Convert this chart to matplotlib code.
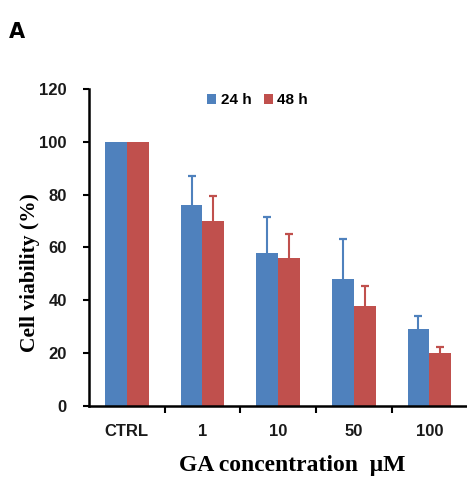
import matplotlib
matplotlib.use('Agg')
import matplotlib.pyplot as plt
import numpy as np

# 数据
categories = ['CTRL', '1', '10', '50', '100']
viability_24h = [100, 76, 58, 48, 29]
viability_48h = [100, 70, 56, 38, 20]
err_24h = [0, 11, 13.6, 15.3, 5]
err_48h = [0, 9.5, 9, 7.5, 2.3]

blue = '#4F81BD'
red = '#C0504D'

fig = plt.figure(figsize=(4.67, 4.79), dpi=100)
ax = fig.add_axes([0.1906, 0.1524, 0.81, 0.6618])

x = np.arange(len(categories))
w = 0.29
for off, vals, errs, col, lab in [(-w / 2, viability_24h, err_24h, blue, '24 h'),
                                  (w / 2, viability_48h, err_48h, red, '48 h')]:
    vals = np.array(vals)
    errs = np.array(errs)
    ax.bar(x + off, vals, w, color=col, label=lab, zorder=2)
    m = errs > 0
    # 只画上误差线
    ax.vlines(x[m] + off, vals[m], vals[m] + errs[m], color=col, lw=1.5, zorder=1)
    ax.plot(x[m] + off, vals[m] + errs[m], ls='none', marker='_', ms=6, mew=1.6,
            color=col, zorder=1)

ax.set_xlim(-0.5, 4.5)
ax.set_ylim(0, 120)
ax.set_yticks(range(0, 121, 20))
ax.set_xticks(x)
ax.set_xticklabels(categories)
ax.set_xticks(np.arange(0.5, 4.5, 1), minor=True)
ax.tick_params(axis='x', which='major', length=0, pad=13)
ax.tick_params(axis='x', which='minor', length=5, width=1.5, direction='out')
ax.tick_params(axis='y', length=4, width=1.5, pad=12)
for lab in ax.get_xticklabels() + ax.get_yticklabels():
    lab.set_fontfamily('Liberation Sans')
    lab.set_fontweight('bold')
    lab.set_fontsize(12)
    lab.set_color('#1a1a1a')

for s in ['top', 'right']:
    ax.spines[s].set_visible(False)
ax.spines['left'].set_linewidth(1.8)
ax.spines['bottom'].set_linewidth(1.8)

ax.set_ylabel('Cell viability (%)', fontfamily='Liberation Serif',
              fontweight='bold', fontsize=15.5)
ax.yaxis.set_label_coords(-0.13, 0.42)

leg = ax.legend(loc='upper left', bbox_to_anchor=(0.275, 1.03), ncol=2, frameon=False,
                handlelength=0.6, handleheight=0.6, handletextpad=0.3, columnspacing=0.8,
                prop={'family': 'Liberation Sans', 'weight': 'bold', 'size': 11})

fig.text(0.625, 0.006, 'GA concentration  \u03bcM', ha='center', va='bottom',
         fontfamily='Liberation Serif', fontweight='bold', fontsize=17)
fig.text(0.02, 0.92, 'A', fontfamily='DejaVu Sans', fontweight='bold', fontsize=15)

plt.savefig('out.png', dpi=100)
